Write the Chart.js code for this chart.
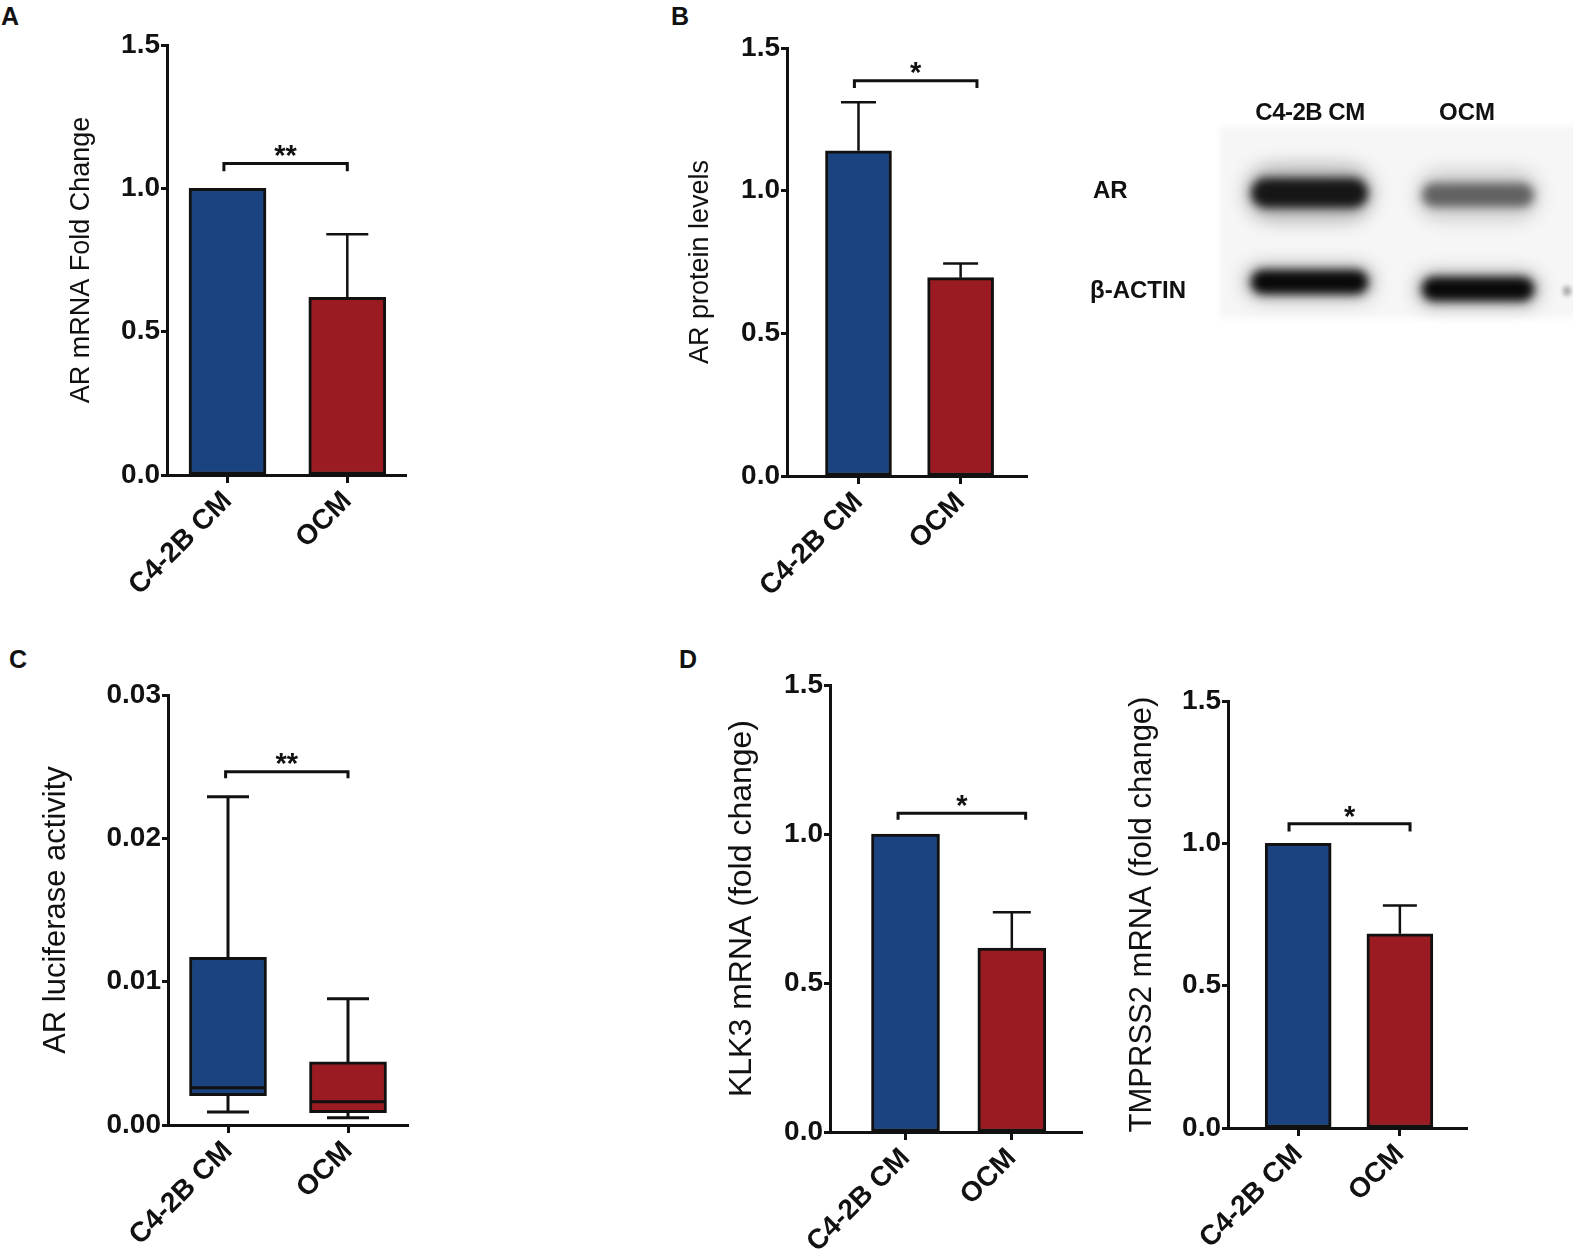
<!DOCTYPE html>
<html>
<head>
<meta charset="utf-8">
<script src="https://cdn.jsdelivr.net/npm/chart.js@4.4.1/dist/chart.umd.min.js"></script>
<style>
  body { margin: 0; background: #fff; }
  #fig { position: relative; width: 1573px; height: 1253px; font-family: 'Liberation Sans', Arial, sans-serif; color: #111; }
  .panel { position: absolute; }
  .tag { position: absolute; font-weight: 700; font-size: 25px; line-height: 1; }
  .blot-label { position: absolute; font-weight: 700; font-size: 24px; line-height: 1; white-space: nowrap; }
</style>
</head>
<body>
<div id="fig">
  <div class="tag" style="left:1px;top:4px">A</div>
  <div class="tag" style="left:671px;top:4px">B</div>
  <div class="tag" style="left:9px;top:647px">C</div>
  <div class="tag" style="left:679px;top:647px">D</div>

  <canvas id="chartA" class="panel" width="460" height="620" style="left:0;top:0"></canvas>
  <canvas id="chartB" class="panel" width="420" height="620" style="left:640px;top:0"></canvas>
  <canvas id="blot" class="panel" width="513" height="280" style="left:1060px;top:60px"></canvas>
  <canvas id="chartC" class="panel" width="460" height="613" style="left:0;top:640px"></canvas>
  <canvas id="chartD1" class="panel" width="400" height="613" style="left:700px;top:640px"></canvas>
  <canvas id="chartD2" class="panel" width="420" height="613" style="left:1100px;top:640px"></canvas>

  <div class="blot-label" style="left:1310px;top:112px;transform:translate(-50%,-50%);letter-spacing:-0.5px">C4-2B CM</div>
  <div class="blot-label" style="left:1467px;top:112px;transform:translate(-50%,-50%)">OCM</div>
  <div class="blot-label" style="left:1093px;top:190px;transform:translateY(-50%)">AR</div>
  <div class="blot-label" style="left:1090px;top:290px;transform:translateY(-50%)">β-ACTIN</div>
</div>

<script>
const GROUPS = ['C4-2B CM', 'OCM'];
const FOLD_TICKS = [0, 0.5, 1.0, 1.5];
const LUC_TICKS = [0, 0.01, 0.02, 0.03];

// A: AR mRNA fold change (mean, SEM)
const arMrnaMean = [1.0, 0.62];
const arMrnaSem  = [0, 0.22];

// B: AR protein levels (densitometry)
const arProteinMean = [1.14, 0.695];
const arProteinSem  = [0.17, 0.05];

// C: AR luciferase activity, box and whiskers
const lucMin    = [0.0009, 0.0005];
const lucQ1     = [0.00205, 0.00086];
const lucMedian = [0.0026, 0.00163];
const lucQ3     = [0.0117, 0.0044];
const lucMax    = [0.0229, 0.0088];

// D: target genes
const klk3Mean    = [1.0, 0.617];
const klk3Sem     = [0, 0.12];
const tmprss2Mean = [1.0, 0.682];
const tmprss2Sem  = [0, 0.10];

// Western blot band density (row x lane)
const blotRows = ['AR', 'β-ACTIN'];
const blotDensity = [[0.92, 0.55], [1.0, 1.0]];

const BLUE = '#1b437f';
const RED  = '#9b1b22';
const INK  = '#111';
const FONT = "'Liberation Sans', Arial, sans-serif";
const TICK_FONT = { family: FONT, size: 28, weight: 'bold' };

// Error bars, whiskers and significance bracket, drawn through the chart's scales
function marksPlugin(m) {
  return {
    id: 'marks',
    afterDatasetsDraw(chart) {
      const { ctx, scales: { x, y } } = chart;
      const bars = chart.getDatasetMeta(0).data;
      ctx.save();
      ctx.strokeStyle = INK;
      ctx.lineCap = 'butt';

      if (m.sem) {
        ctx.lineWidth = 2.5;
        m.sem.forEach((s, i) => {
          if (!s) return;
          const top = y.getPixelForValue(m.mean[i] + s);
          const cx = bars[i].x, half = m.cap / 2;
          ctx.beginPath();
          ctx.moveTo(cx, y.getPixelForValue(m.mean[i])); ctx.lineTo(cx, top);
          ctx.moveTo(cx - half, top); ctx.lineTo(cx + half, top);
          ctx.stroke();
        });
      }

      if (m.box) {
        const b = m.box;
        ctx.lineWidth = 3;
        bars.forEach((bar, i) => {
          const cx = bar.x, half = m.cap / 2, hw = bar.width / 2 - 1;
          const pMax = y.getPixelForValue(b.max[i]);
          const pMin = y.getPixelForValue(b.min[i]);
          const pQ3  = y.getPixelForValue(b.q3[i]);
          const pQ1  = y.getPixelForValue(b.q1[i]);
          const pMed = y.getPixelForValue(b.median[i]);
          ctx.beginPath();
          ctx.moveTo(cx, pQ3); ctx.lineTo(cx, pMax);
          ctx.moveTo(cx - half, pMax); ctx.lineTo(cx + half, pMax);
          ctx.moveTo(cx, pQ1); ctx.lineTo(cx, pMin);
          ctx.moveTo(cx - half, pMin); ctx.lineTo(cx + half, pMin);
          ctx.moveTo(cx - hw, pMed); ctx.lineTo(cx + hw, pMed);
          ctx.stroke();
        });
      }

      const s = m.sig;
      if (s) {
        const x1 = x.getPixelForValue(s.from), x2 = x.getPixelForValue(s.to);
        const yb = y.getPixelForValue(s.y), yt = y.getPixelForValue(s.tip);
        ctx.lineWidth = 3;
        ctx.beginPath();
        ctx.moveTo(x1, yt); ctx.lineTo(x1, yb); ctx.lineTo(x2, yb); ctx.lineTo(x2, yt);
        ctx.stroke();
        ctx.fillStyle = INK;
        ctx.font = `bold 29px ${FONT}`;
        ctx.textAlign = 'center';
        ctx.textBaseline = 'alphabetic';
        ctx.fillText(s.text, (x1 + x2) / 2, y.getPixelForValue(s.textY) + 29 * 0.57);
      }
      ctx.restore();
    }
  };
}

// p.left / p.top / p.right / p.bottom are the axis edges inside the canvas
function makePanel(canvasId, p) {
  const cv = document.getElementById(canvasId);
  const W = cv.width, H = cv.height;
  return new Chart(cv, {
    type: 'bar',
    data: {
      datasets: [{
        data: p.values.map((v, i) => ({ x: i + 1, y: v })),
        backgroundColor: [BLUE, RED],
        borderColor: INK,
        borderWidth: 3,
        borderSkipped: false,
        barThickness: p.barW
      }]
    },
    options: {
      responsive: false,
      animation: false,
      events: [],
      layout: { padding: { left: 0, top: p.top, right: W - p.right, bottom: 0 } },
      plugins: { legend: { display: false }, tooltip: { enabled: false } },
      scales: {
        x: {
          type: 'linear',
          min: p.xMin,
          max: p.xMax,
          offset: false,
          afterBuildTicks: s => { s.ticks = GROUPS.map((g, i) => ({ value: i + 1 })); },
          afterFit: s => { s.height = H - p.bottom; },
          ticks: {
            callback: v => GROUPS[v - 1],
            minRotation: 45, maxRotation: 45, autoSkip: false,
            color: INK, padding: 2, font: TICK_FONT
          },
          grid: { drawOnChartArea: false, offset: false, tickLength: 8, tickWidth: 3, tickColor: INK },
          border: { color: INK, width: 3 }
        },
        y: {
          min: 0,
          max: p.ticks[p.ticks.length - 1],
          afterBuildTicks: s => { s.ticks = p.ticks.map(v => ({ value: v })); },
          afterFit: s => { s.width = p.left; },
          ticks: {
            callback: v => v.toFixed(p.dec),
            color: INK, padding: 1, font: TICK_FONT
          },
          grid: { drawOnChartArea: false, tickLength: 6, tickWidth: 3, tickColor: INK },
          border: { color: INK, width: 3 },
          title: {
            display: true,
            text: p.title,
            color: INK,
            font: { family: FONT, size: p.titleSize, weight: 'normal', lineHeight: 1 },
            padding: { top: p.titleX - p.titleSize / 2, bottom: 0 }
          }
        }
      }
    },
    plugins: [marksPlugin(p.marks)]
  });
}

makePanel('chartA', {
  values: arMrnaMean, ticks: FOLD_TICKS, dec: 1,
  left: 167, top: 45, right: 406, bottom: 475,
  xMin: 0.495, xMax: 2.49, barW: 77,
  title: 'AR mRNA Fold Change', titleSize: 27, titleX: 82,
  marks: {
    mean: arMrnaMean, sem: arMrnaSem, cap: 42,
    sig: { from: 0.97, to: 2.0, y: 1.087, tip: 1.06, text: '**', textY: 1.14 }
  }
});

makePanel('chartB', {
  values: arProteinMean, ticks: FOLD_TICKS, dec: 1,
  left: 147, top: 48, right: 387, bottom: 476,
  xMin: 0.30, xMax: 2.65, barW: 66,
  title: 'AR protein levels', titleSize: 27, titleX: 61,
  marks: {
    mean: arProteinMean, sem: arProteinSem, cap: 35,
    sig: { from: 0.96, to: 2.16, y: 1.385, tip: 1.36, text: '*', textY: 1.44 }
  }
});

makePanel('chartC', {
  values: lucQ1.map((q, i) => [q, lucQ3[i]]), ticks: LUC_TICKS, dec: 2,
  left: 168, top: 55, right: 408, bottom: 485,
  xMin: 0.5, xMax: 2.5, barW: 77,
  title: 'AR luciferase activity', titleSize: 31, titleX: 56,
  marks: {
    cap: 42,
    box: { min: lucMin, q1: lucQ1, median: lucMedian, q3: lucQ3, max: lucMax },
    sig: { from: 0.98, to: 2.0, y: 0.02465, tip: 0.0242, text: '**', textY: 0.0257 }
  }
});

makePanel('chartD1', {
  values: klk3Mean, ticks: FOLD_TICKS, dec: 1,
  left: 130, top: 45, right: 382, bottom: 492,
  xMin: 0.29, xMax: 2.66, barW: 68,
  title: 'KLK3 mRNA (fold change)', titleSize: 32, titleX: 42,
  marks: {
    mean: klk3Mean, sem: klk3Sem, cap: 38,
    sig: { from: 0.93, to: 2.13, y: 1.07, tip: 1.048, text: '*', textY: 1.12 }
  }
});

makePanel('chartD2', {
  values: tmprss2Mean, ticks: FOLD_TICKS, dec: 1,
  left: 128, top: 61, right: 367, bottom: 488,
  xMin: 0.31, xMax: 2.66, barW: 66,
  title: 'TMPRSS2 mRNA (fold change)', titleSize: 31, titleX: 42,
  marks: {
    mean: tmprss2Mean, sem: tmprss2Sem, cap: 34,
    sig: { from: 0.91, to: 2.10, y: 1.069, tip: 1.042, text: '*', textY: 1.118 }
  }
});

// Western blot picture (not a chart): soft blurred bands on a pale membrane
(function drawBlot() {
  const ctx = document.getElementById('blot').getContext('2d');
  const lanes = [{ x: 187, w: 125 }, { x: 358, w: 120 }];
  const rows = [{ y: 118, h: 30, halo: 26 }, { y: 210, h: 24, halo: 10 }];
  const shift = [[0, 5], [0, 7]];

  ctx.filter = 'blur(3px)';
  ctx.fillStyle = '#f6f6f6';
  ctx.fillRect(160, 66, 360, 192);

  function band(x, y, w, h, alpha, blur) {
    ctx.filter = `blur(${blur}px)`;
    ctx.fillStyle = `rgba(0,0,0,${alpha})`;
    ctx.beginPath();
    if (ctx.roundRect) ctx.roundRect(x, y, w, h, h / 2); else ctx.rect(x, y, w, h);
    ctx.fill();
  }

  blotRows.forEach((r, ri) => {
    lanes.forEach((l, li) => {
      const d = blotDensity[ri][li];
      const row = rows[ri];
      const y = row.y + shift[ri][li] * (li ? 1 : 0);
      const h = li && ri === 0 ? row.h - 6 : row.h;
      band(l.x - 2, y - row.halo / 2, l.w + 4, h + row.halo, d * 0.3, 9);
      band(l.x + 4, y, l.w - 8, h, d * 0.95, 5);
    });
  });
  band(503, 226, 8, 10, 0.3, 2);
})();
</script>
</body>
</html>
